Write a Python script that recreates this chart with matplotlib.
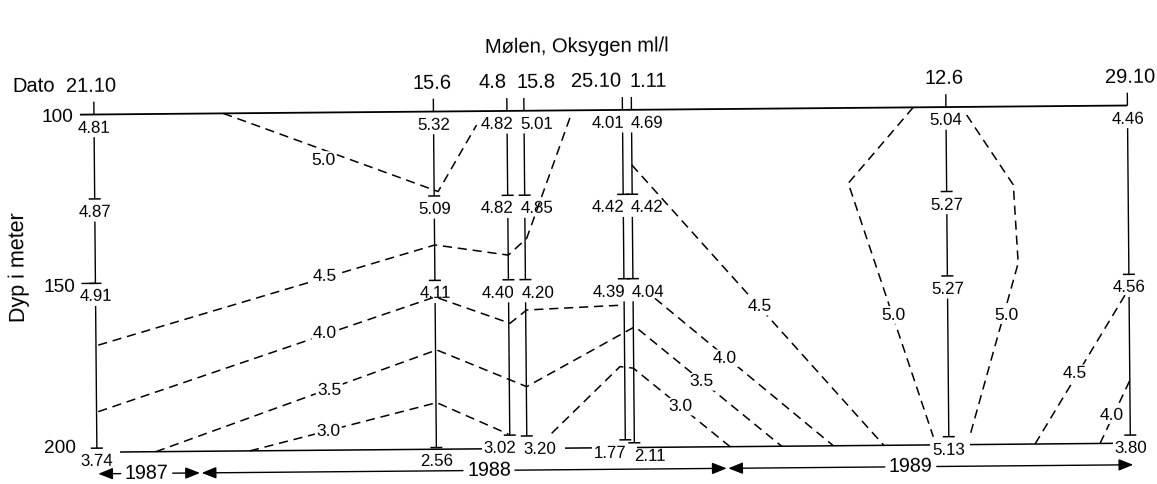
import numpy as np
import matplotlib
matplotlib.use("Agg")
import matplotlib.pyplot as plt
from matplotlib.transforms import Affine2D

plt.rcParams['font.family'] = ['Liberation Sans', 'DejaVu Sans']

# ---------------------------------------------------------------- data
# Sampling dates (day.month) and their position along the time axis
dates = ["21.10", "15.6", "4.8", "15.8", "25.10", "1.11", "12.6", "29.10"]
station_pos = [95.5, 435.0, 508.5, 525.5, 624.0, 633.0, 947.5, 1129.0]

# Sample depths (m) and oxygen (ml/l) per depth, one entry per date
depths = [100, 125, 150, 200]
oxy_100 = [4.81, 5.32, 4.82, 5.01, 4.01, 4.69, 5.04, 4.46]
oxy_125 = [4.87, 5.09, 4.82, 4.85, 4.42, 4.42, 5.27, np.nan]
oxy_150 = [4.91, 4.11, 4.40, 4.20, 4.39, 4.04, 5.27, 4.56]
oxy_200 = [3.74, 2.56, 3.02, 3.20, 1.77, 2.11, 5.13, 3.80]

# Hand-drawn isolines: (position, depth) vertices
iso50_a_x = [224.8, 439.0, 478.0]
iso50_a_d = [100.0, 123.7, 104.1]
iso45_a_x = [97.8, 435.4, 508.6, 527.1, 573.2]
iso45_a_d = [168.3, 139.5, 142.7, 137.8, 100.8]
iso40_a_x = [97.2, 435.0, 509.7, 526.5, 623.2]
iso40_a_d = [188.0, 154.9, 162.9, 159.0, 157.8]
iso35_a_x = [154.5, 436.2, 525.8, 634.7, 780.3]
iso35_a_d = [200.0, 170.6, 181.7, 164.2, 200.0]
iso30_a_x = [248.6, 435.7, 507.1]
iso30_a_d = [200.0, 186.2, 195.7]
iso30_b_x = [550.4, 619.3, 632.6, 728.7]
iso30_b_d = [195.6, 176.0, 176.5, 200.0]
iso40_b_x = [654.9, 832.0]
iso40_b_d = [155.9, 200.0]
iso45_b_x = [632.8, 882.5]
iso45_b_d = [116.3, 200.0]
iso50_b_x = [914.8, 849.2, 932.0]
iso50_b_d = [100.0, 122.3, 197.6]
iso50_c_x = [968.2, 1014.2, 1018.4, 968.8]
iso50_c_d = [102.4, 123.2, 146.4, 197.2]
iso45_c_x = [1033.7, 1125.0]
iso45_c_d = [200.0, 156.1]
iso40_c_x = [1098.7, 1129.2]
iso40_c_d = [200.0, 181.3]

# Isoline labels: text and centre (position, depth)
iso_text = ["5.0", "4.5", "4.0", "3.5", "3.0",
            "4.5", "4.0", "3.5", "3.0",
            "5.0", "5.0", "4.5", "4.0"]
iso_text_x = [324.5, 325.1, 324.6, 328.4, 327.1,
              760.0, 724.4, 700.9, 679.0,
              893.1, 1006.5, 1074.3, 1110.6]
iso_text_d = [113.6, 148.1, 164.9, 181.7, 194.0,
              158.1, 173.3, 180.2, 187.5,
              160.9, 161.2, 178.7, 191.1]

# Years along the time axis
years = ["1987", "1988", "1989"]
year_start = [96.7, 200.1, 726.7]
year_end = [198.4, 725.1, 1131.7]
year_text_x = [145.1, 487.4, 909.2]

# ---------------------------------------------------------------- layout
value_dx = [0, 0, -10.5, 12.5, -15, 15, 0, 0]       # value labels beside lines
date_dx = [-2.7, -1.5, -14, 12, -26, 17, -2, 3]     # date labels above
bottom_tick = [198.8, 199.5, 196.0, 196.3, 197.7, 198.6, 197.6, 197.6]
bottom_segments = [(118.6, 480.6), (563.6, 590.6), (635.6, 928.6), (968.6, 1111.6)]
ARROW_D = 206.4
ANG = 0.5

fig = plt.figure(figsize=(11.57, 4.84), dpi=100)
ax = fig.add_axes([0, 0, 1, 1])
ax.set_xlim(0, 1157)
ax.set_ylim(210.66, 67.34)
ax.axis('off')

tilt = Affine2D().rotate_deg_around(578, 194, ANG)
T = ax.transData + tilt


def draw(xs, ds, lw=1.0, **kw):
    ax.plot(xs, ds, transform=T, color='black', lw=lw,
            solid_capstyle='butt', **kw)


def write(x, d, s, size, ha='center', va='baseline', rot=0.0, **kw):
    ax.text(x, d, s, transform=T, fontsize=size, ha=ha, va=va,
            rotation=ANG + rot, rotation_mode='anchor', color='black', **kw)


# title and axis labels
write(579, 82.7, "Mølen, Oksygen ml/l", 14.5)
write(13.8, 93.2, "Dato", 14.5, ha='left')
for name, x, dx in zip(dates, station_pos, date_dx):
    write(x + dx, 93.2, name, 14.5)

for lab, d in zip(["100", "150", "200"], [102.1, 152.3, 200.1]):
    write(75.0, d, lab, 13.8, ha='right')
write(19.2, 145.0, "Dyp i meter", 15.5, va='center', rot=90)

# surface (100 m) and bottom (200 m) lines
draw([81.5, station_pos[-1]], [100, 100], lw=1.3)
for a, b in bottom_segments:
    draw([a, b], [200, 200], lw=1.1)
draw([81.5, station_pos[0]], [150, 150], lw=1.0)

# isolines
iso_lines = [(iso50_a_x, iso50_a_d), (iso45_a_x, iso45_a_d), (iso40_a_x, iso40_a_d),
             (iso35_a_x, iso35_a_d), (iso30_a_x, iso30_a_d), (iso30_b_x, iso30_b_d),
             (iso40_b_x, iso40_b_d), (iso45_b_x, iso45_b_d), (iso50_b_x, iso50_b_d),
             (iso50_c_x, iso50_c_d), (iso45_c_x, iso45_c_d), (iso40_c_x, iso40_c_d)]
for xs, ds in iso_lines:
    ax.plot(xs, ds, transform=T, color='black', lw=1.1,
            linestyle=(0, (6.0, 3.8)), zorder=2)
for s, x, d in zip(iso_text, iso_text_x, iso_text_d):
    write(x, d + 1.85, s, 12.5, zorder=3,
          bbox=dict(facecolor='white', edgecolor='none', pad=1.0))

# stations: vertical profiles with sampled values
columns = [oxy_100, oxy_125, oxy_150, oxy_200]
for i, x in enumerate(station_pos):
    draw([x, x], [100, 100 - 3.8], lw=1.0, zorder=4)
    ticks = []
    for depth, col in zip(depths, columns):
        v = col[i]
        if np.isnan(v):
            continue
        td = bottom_tick[i] if depth == 200 else depth
        if depth != 100:
            draw([x - 6, x + 6], [td, td], lw=1.1, zorder=4)
        write(x + value_dx[i], td + 5.3, f"{v:.2f}", 12.2, zorder=4)
        ticks.append(td)
    for top, bot in zip(ticks[:-1], ticks[1:]):
        draw([x, x], [top + 6.7, bot], lw=1.0, zorder=4)

# year arrows
arrow = dict(arrowstyle='-|>,head_length=0.55,head_width=0.22', color='black',
             lw=1.0, shrinkA=0, shrinkB=0, mutation_scale=16)
for name, a, b, xc in zip(years, year_start, year_end, year_text_x):
    ax.annotate('', xy=(a, ARROW_D), xytext=(xc - 26, ARROW_D),
                xycoords=T, textcoords=T, arrowprops=arrow)
    ax.annotate('', xy=(b, ARROW_D), xytext=(xc + 26, ARROW_D),
                xycoords=T, textcoords=T, arrowprops=arrow)
    write(xc, ARROW_D + 1.6, name, 14.2)

fig.savefig("out.png", dpi=100, facecolor='white')
